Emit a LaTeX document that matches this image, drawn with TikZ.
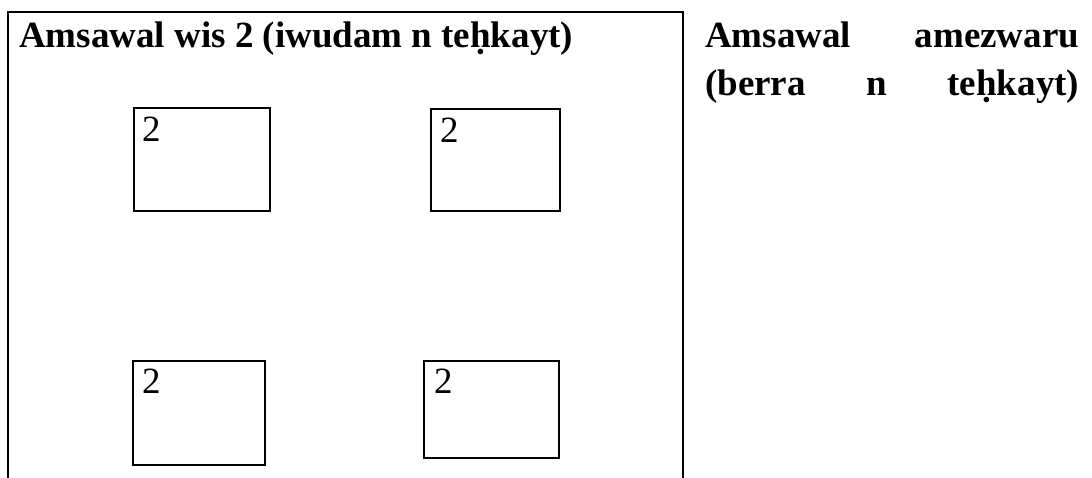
\documentclass[tikz,border=0pt]{standalone}
\usepackage{fontspec}
\setmainfont{Liberation Serif}
\usetikzlibrary{calc}
\tikzset{
  frame/.style={line width=2.2pt, line cap=rect},
  cell/.style={draw, line width=2.2pt, rectangle, inner sep=0pt},
  digit/.style={anchor=base west, inner sep=0pt, font=\fontsize{37}{42}\selectfont},
  heading/.style={anchor=base west, inner sep=0pt, font=\fontsize{37}{42}\selectfont\bfseries},
  sideline/.style={anchor=base west, inner sep=0pt, text width=374pt, align=justify, font=\fontsize{37}{42}\selectfont\bfseries}
}
\begin{document}
\begin{tikzpicture}[x=1pt, y=-1pt]
\useasboundingbox (0,0) rectangle (1092,477);
% frame
\coordinate (fbl) at (8,480);
\coordinate (ftl) at (8,12);
\coordinate (ftr) at (683,12);
\coordinate (fbr) at (683,480);
\draw[frame] (fbl) -- (ftl) -- (ftr) -- (fbr);
% title
\node[heading] (title) at (19,47) {Amsawal wis 2 (iwudam n teḥkayt)};
% boxes
\node[cell, minimum width=136pt, minimum height=103pt] (b1) at (202,159.5) {};
\node[cell, minimum width=129pt, minimum height=102pt] (b2) at (495.5,160) {};
\node[cell, minimum width=132pt, minimum height=104pt] (b3) at (199,413) {};
\node[cell, minimum width=135pt, minimum height=97pt] (b4) at (491.5,409.5) {};
\node[digit] (d1) at ($(b1.north west)+(9,35)$) {2};
\node[digit] (d2) at ($(b2.north west)+(10,35)$) {2};
\node[digit] (d3) at ($(b3.north west)+(10,34)$) {2};
\node[digit] (d4) at ($(b4.north west)+(11,34)$) {2};
% side text
\node[sideline] (s1) at (705,47) {Amsawal\hfill amezwaru};
\node[sideline] (s2) at (705,95) {(berra\hfill n\hfill teḥkayt)};
\end{tikzpicture}
\end{document}
